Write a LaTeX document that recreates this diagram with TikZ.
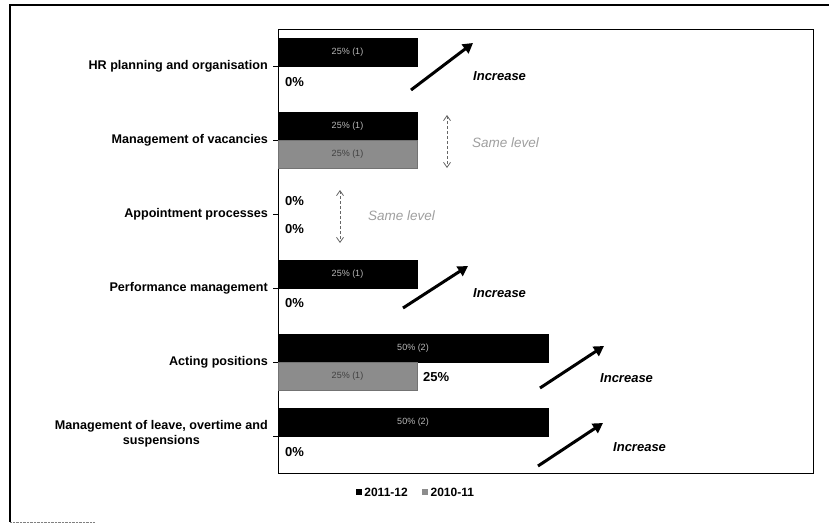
\documentclass[tikz,border=0pt]{standalone}
\usepackage{fontspec}
\setmainfont{Liberation Sans}
\usepackage{tikz}
\usetikzlibrary{arrows.meta,positioning}

\tikzset{
  catlabel/.style={anchor=east, inner sep=0pt, font=\fontsize{12.6}{15}\selectfont\bfseries, align=center},
  bareleven/.style={fill=black, draw=black, inner sep=0pt, outer sep=0pt, minimum height=28pt, anchor=south west,
    text=gray!55, font=\fontsize{9}{10}\selectfont},
  barten/.style={fill=black!45, draw=black!55, inner sep=0pt, outer sep=0pt, minimum height=28pt, anchor=north west,
    text=black!75, font=\fontsize{9}{10}\selectfont},
  pct/.style={anchor=west, inner sep=0pt, font=\fontsize{13}{15}\selectfont\bfseries},
  incarrow/.style={line width=3pt, -{Triangle[length=10pt,width=11pt]}},
  inctext/.style={anchor=west, inner sep=0pt, font=\fontsize{13}{15}\selectfont\bfseries\itshape},
  samearrow/.style={black!60, densely dashed, line width=0.8pt, {Straight Barb[length=5pt,width=7pt]}-{Straight Barb[length=5pt,width=7pt]}},
  sametext/.style={anchor=west, inner sep=0pt, text=gray!75, font=\fontsize{13.5}{15}\selectfont\itshape},
  legbox/.style={minimum size=6pt, inner sep=0pt},
  legtext/.style={inner sep=0pt, font=\fontsize{12}{14}\selectfont\bfseries}
}

\begin{document}
\begin{tikzpicture}[x=1pt, y=-1pt]
  \useasboundingbox (0,0) rectangle (829,525);

  % Outer frame (partly lost at the right and bottom)
  \draw[line width=1.2pt] (829,5) -- (10,5) -- (10,522);
  \draw[gray, densely dotted] (10,522) -- (95,522);

  % Plot area and category ticks
  \draw[line width=0.9pt] (278,29) rectangle (813,473);
  \foreach \y in {66,140,214,288,362,436}
    \draw (273,\y) -- (278,\y);

  % Category labels
  \node[catlabel] (lhr)   at (268,66)  {HR planning and organisation};
  \node[catlabel] (lvac)  at (268,140) {Management of vacancies};
  \node[catlabel] (lapp)  at (268,214) {Appointment processes};
  \node[catlabel] (lperf) at (268,288) {Performance management};
  \node[catlabel] (lact)  at (268,362) {Acting positions};
  \node[catlabel] (lleave) at (268,434) {Management of leave, overtime and\\suspensions};

  % Bars 2011-12
  \node[bareleven, minimum width=139pt] (hrnew)   at (278,66)  {25\% (1)};
  \node[bareleven, minimum width=139pt] (vacnew)  at (278,140) {25\% (1)};
  \node[bareleven, minimum width=139pt] (perfnew) at (278,288) {25\% (1)};
  \node[bareleven, minimum width=270pt] (actnew)  at (278,362) {50\% (2)};
  \node[bareleven, minimum width=270pt] (leavenew) at (278,436) {50\% (2)};

  % Bars 2010-11
  \node[barten, minimum width=139pt] (vacold) at (278,140) {25\% (1)};
  \node[barten, minimum width=139pt] (actold) at (278,362) {25\% (1)};

  % Value labels
  \node[pct] (hrold)    at (285,82)  {0\%};
  \node[pct] (appnew)   at (285,201) {0\%};
  \node[pct] (appold)   at (285,229) {0\%};
  \node[pct] (perfold)  at (285,303) {0\%};
  \node[pct] (actval)   at (423,377) {25\%};
  \node[pct] (leaveold) at (285,452) {0\%};

  % Increase arrows
  \coordinate (hrA) at (411,90);
  \coordinate (hrB) at (473,43);
  \draw[incarrow] (hrA) -- (hrB);
  \node[inctext] (hrinc) at (473,76) {Increase};

  \coordinate (perfA) at (403,308);
  \coordinate (perfB) at (468,266);
  \draw[incarrow] (perfA) -- (perfB);
  \node[inctext] (perfinc) at (473,293) {Increase};

  \coordinate (actA) at (540,388);
  \coordinate (actB) at (604,346);
  \draw[incarrow] (actA) -- (actB);
  \node[inctext] (actinc) at (600,378) {Increase};

  \coordinate (leaveA) at (538,466);
  \coordinate (leaveB) at (603,423);
  \draw[incarrow] (leaveA) -- (leaveB);
  \node[inctext] (leaveinc) at (613,447) {Increase};

  % Same level arrows
  \coordinate (vacA) at (447,115);
  \coordinate (vacB) at (447,168);
  \draw[samearrow] (vacA) -- (vacB);
  \node[sametext] (vacsame) at (472,143) {Same level};

  \coordinate (appA) at (340,190);
  \coordinate (appB) at (340,243);
  \draw[samearrow] (appA) -- (appB);
  \node[sametext] (appsame) at (368,216) {Same level};

  % Legend
  \node[legbox, fill=black] (legnew) at (359,492) {};
  \node[legtext, right=2pt of legnew] (legnewt) {2011-12};
  \node[legbox, fill=black!45, right=14pt of legnewt] (legold) {};
  \node[legtext, right=2pt of legold] (legoldt) {2010-11};
\end{tikzpicture}
\end{document}
